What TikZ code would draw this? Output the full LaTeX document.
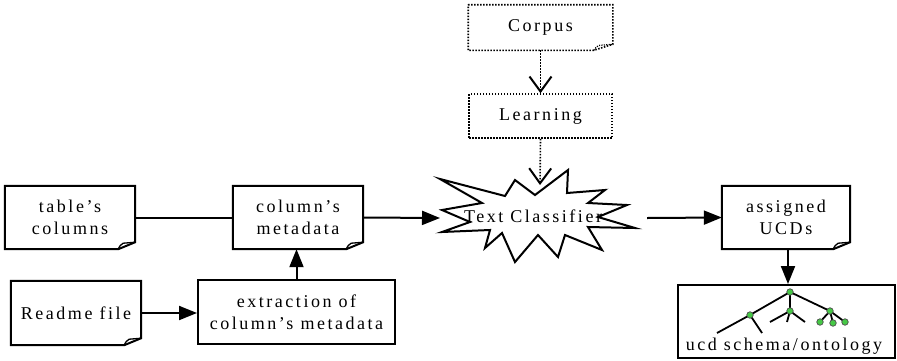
\documentclass[tikz,border=0pt]{standalone}
\usepackage{fontspec}
\setmainfont{Liberation Serif}[LetterSpace=14]
\usetikzlibrary{arrows.meta}
\definecolor{leafgreen}{RGB}{70,200,70}
\tikzset{
  txt/.style={font=\fontsize{18}{22}\selectfont},
  boxline/.style={line width=2pt, line join=miter},
  plainbox/.style={draw, boxline, minimum width=#1, inner sep=0pt, align=center, txt},
  docbox/.style={minimum width=#1, inner sep=0pt, align=center, txt},
  dotpat/.style={line width=1.6pt, dash pattern=on 1.5pt off 1.5pt},
  dotbox/.style={dotpat, minimum width=143pt, minimum height=44pt, inner sep=0pt, txt},
  solidarrow/.style={line width=2pt, -{Triangle[length=18pt,width=14pt]}},
  plainline/.style={line width=2pt},
  dotarrow/.style={dotpat, -{Straight Barb[length=15pt,width=22pt,line width=2pt]}},
  treeline/.style={line width=1.8pt},
  leaf/.style={circle, draw=black!70, line width=0.7pt, fill=leafgreen, minimum size=6.5pt, inner sep=0pt},
}
\newcommand\foldoutline[1]{%
  \draw[boxline] (#1.north west) -- (#1.north east) -- ([yshift=7pt]#1.south east)
     -- ([xshift=-17pt]#1.south east) -- (#1.south west) -- cycle;
  \draw[line width=1.3pt] ([xshift=-17pt]#1.south east) .. controls ([xshift=-15pt,yshift=4pt]#1.south east) .. ([xshift=-12pt,yshift=6pt]#1.south east) -- ([yshift=7pt]#1.south east);
}
\begin{document}
\begin{tikzpicture}[x=1pt,y=-1pt]
\useasboundingbox (0,0) rectangle (897,360);

% dotted learning branch
\node[dotbox] (corpus) at (540.5,27.5) {Corpus};
\draw[dotpat] (corpus.north west) -- (corpus.north east) -- ([yshift=6pt]corpus.south east)
   -- ([xshift=-19pt]corpus.south east) -- (corpus.south west) -- cycle;
\draw[line width=1.2pt, dash pattern=on 1.2pt off 1.2pt] ([xshift=-19pt]corpus.south east) .. controls ([xshift=-16pt,yshift=4pt]corpus.south east) .. ([xshift=-13pt,yshift=5pt]corpus.south east) -- ([yshift=6pt]corpus.south east);
\node[dotbox, draw] (learning) at (540.5,116) {Learning};

% left boxes
\node[docbox=130pt, minimum height=63pt] (tabcol) at (70,217.5) {table’s\\columns};
\foldoutline{tabcol}
\node[docbox=130pt, minimum height=63pt] (colmeta) at (298,217.5) {column’s\\metadata};
\foldoutline{colmeta}
\node[docbox=130pt, minimum height=64pt] (readme) at (76,313) {Readme file};
\foldoutline{readme}
\node[plainbox=197pt, minimum height=64pt] (extract) at (296.5,312) {extraction of\\column’s metadata};

% right boxes
\node[docbox=128pt, minimum height=63pt] (assigned) at (786,217.5) {assigned\\UCDs};
\foldoutline{assigned}
\node[plainbox=217pt, minimum height=73pt] (ucd) at (786.5,321.5) {};

% starburst
\draw[boxline, fill=white]
  (440,179) -- (505,196) -- (515,180) -- (535,195) -- (568,170) -- (567,193)
  -- (605,190) -- (588,203) -- (627,205) -- (598,217) -- (635,228) -- (588,227)
  -- (602,250) -- (565,235) -- (558,257) -- (538,235) -- (515,262) -- (502,233)
  -- (485,248) -- (490,230) -- (442,232) -- (470,222) -- (442,210) -- (482,203) -- cycle;
\node[txt, inner sep=0pt] (classifier) at (533,216) {Text Classifier};
\coordinate (sbL) at (440,218);
\coordinate (sbR) at (647,218);
\coordinate (sbT) at (540,185);

% connectors
\draw[dotarrow] (corpus.south) -- (learning.north);
\draw[dotarrow] (learning.south) -- (sbT);
\draw[plainline] (tabcol.east) -- (colmeta.west);
\draw[solidarrow] (colmeta.east) -- (sbL);
\draw[solidarrow] (sbR) -- (assigned.west);
\draw[solidarrow] (readme.east) -- (readme.east -| extract.west);
\draw[solidarrow] (extract.north) -- (extract.north |- colmeta.south);
\draw[solidarrow] (assigned.south -| 788,0) -- (788,0 |- ucd.north);

% tree icon
\coordinate (tr) at (790,292);
\coordinate (ta) at (750,315);
\coordinate (tb) at (790,311);
\coordinate (tc) at (830,311);
\coordinate (tc1) at (820,322);
\coordinate (tc2) at (833,323);
\coordinate (tc3) at (845,322);
\draw[treeline] (tr) -- (ta) (tr) -- (tb) (tr) -- (tc);
\draw[treeline] (ta) -- (717,333) (ta) -- (762,333);
\draw[treeline] (tb) -- (770,322) (tb) -- (787,322) (tb) -- (805,322);
\draw[treeline] (tc) -- (tc1) (tc) -- (tc2) (tc) -- (tc3);
\foreach \p in {tr,ta,tb,tc,tc1,tc2,tc3} \node[leaf] at (\p) {};
\node[txt, inner sep=0pt, anchor=base] (ucdtext) at (784,350) {ucd schema/ontology};
\end{tikzpicture}
\end{document}
